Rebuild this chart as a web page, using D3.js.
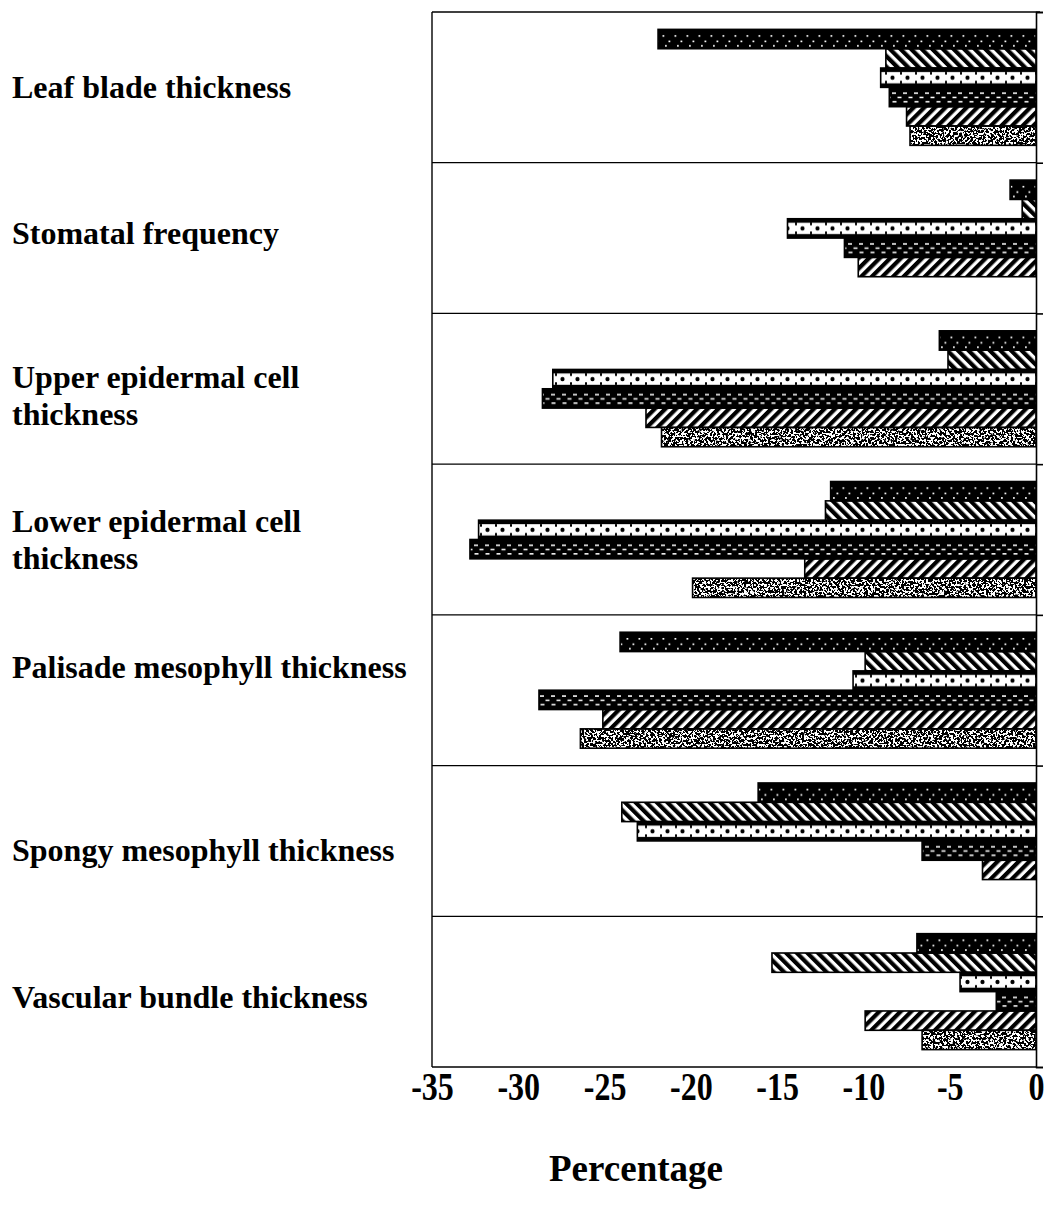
<!DOCTYPE html>
<html>
<head>
<meta charset="utf-8">
<script src="https://cdn.jsdelivr.net/npm/d3@7"></script>
<style>
  html, body { margin: 0; padding: 0; background: #fff; }
  svg { display: block; }
</style>
</head>
<body>
<div id="chart"></div>
<script>
// ---------- data ----------
const categories = [
  "Leaf blade thickness",
  "Stomatal frequency",
  "Upper epidermal cell thickness",
  "Lower epidermal cell thickness",
  "Palisade mesophyll thickness",
  "Spongy mesophyll thickness",
  "Vascular bundle thickness"
];
const categoryLines = [
  ["Leaf blade thickness"],
  ["Stomatal frequency"],
  ["Upper epidermal cell", "thickness"],
  ["Lower epidermal cell", "thickness"],
  ["Palisade mesophyll thickness"],
  ["Spongy mesophyll thickness"],
  ["Vascular bundle thickness"]
];
const seriesNames = ["S1", "S2", "S3", "S4", "S5", "S6"];
const series1 = [-21.9, -1.5, -5.6, -11.9, -24.1, -16.1, -6.9];
const series2 = [-8.7, -0.8, -5.1, -12.2, -9.9, -24.0, -15.3];
const series3 = [-9.0, -14.4, -28.0, -32.3, -10.6, -23.1, -4.4];
const series4 = [-8.5, -11.1, -28.6, -32.8, -28.8, -6.6, -2.3];
const series5 = [-7.5, -10.3, -22.6, -13.4, -25.1, -3.1, -9.9];
const series6 = [-7.3, 0, -21.7, -19.9, -26.4, 0, -6.6];
const seriesValues = [series1, series2, series3, series4, series5, series6];
const xTicks = [-35, -30, -25, -20, -15, -10, -5, 0];
const xTitle = "Percentage";

// ---------- layout ----------
const W = 1048, H = 1217;
const plotLeft = 432, plotRight = 1036, plotTop = 12, plotBottom = 1067;
const serif = "'Liberation Serif', 'Times New Roman', serif";
const labelShift = [0, -5, 7, 0, -23, 9, 5]; // vertical nudges of category labels (px)

const svg = d3.select("#chart").append("svg")
  .attr("width", W).attr("height", H)
  .attr("viewBox", `0 0 ${W} ${H}`);
svg.append("rect").attr("width", W).attr("height", H).attr("fill", "#fff");

const x = d3.scaleLinear().domain([-35, 0]).range([plotLeft, plotRight]);
const y = d3.scaleBand().domain(categories).range([plotTop, plotBottom]).padding(0);
const yInner = d3.scaleBand().domain(seriesNames).range([0, y.bandwidth()])
  .paddingInner(0).paddingOuter(0.9);
const yBound = d3.scaleLinear().domain([0, categories.length]).range([plotTop, plotBottom]);

const defs = svg.append("defs");

// speckle filter for series 6
const f = defs.append("filter").attr("id", "speck")
  .attr("x", 0).attr("y", 0).attr("width", "100%").attr("height", "100%")
  .attr("filterUnits", "objectBoundingBox");
f.append("feTurbulence").attr("type", "fractalNoise").attr("baseFrequency", 0.45)
  .attr("numOctaves", 3).attr("seed", 7).attr("result", "n");
f.append("feColorMatrix").attr("in", "n").attr("type", "matrix")
  .attr("values", "0 0 0 0 0  0 0 0 0 0  0 0 0 0 0  -30 0 0 0 16.2").attr("result", "m");
f.append("feFlood").attr("flood-color", "#fff").attr("result", "w");
f.append("feComposite").attr("in", "m").attr("in2", "w").attr("operator", "over").attr("result", "bw");
f.append("feComposite").attr("in", "bw").attr("in2", "SourceAlpha").attr("operator", "in");

// hatch patterns
function hatch(id, angle) {
  const p = defs.append("pattern").attr("id", id)
    .attr("patternUnits", "userSpaceOnUse").attr("width", 7.5).attr("height", 7.5)
    .attr("patternTransform", `rotate(${angle})`);
  p.append("rect").attr("width", 7.5).attr("height", 7.5).attr("fill", "#fff");
  p.append("rect").attr("width", 4.2).attr("height", 7.5).attr("fill", "#000");
}
hatch("bslash", -45);
hatch("fslash", 45);

function barPattern(type, id, y0, h) {
  const p = defs.append("pattern").attr("id", id)
    .attr("patternUnits", "userSpaceOnUse").attr("y", y0).attr("x", 0)
    .attr("height", h);
  if (type === "darkdots") {
    p.attr("width", 12);
    p.append("rect").attr("width", 12).attr("height", h).attr("fill", "#000");
    [[2.5, 0.34], [8.5, 0.62], [5, 0.85]].forEach(([cx, fy]) => {
      p.append("rect").attr("x", cx).attr("y", h * fy - 0.8)
        .attr("width", 1.8).attr("height", 1.6).attr("fill", "#fff");
    });
  } else if (type === "whitedots") {
    p.attr("width", 15);
    p.append("rect").attr("width", 15).attr("height", h).attr("fill", "#000");
    p.append("rect").attr("x", 0).attr("y", 4).attr("width", 15).attr("height", h - 8).attr("fill", "#fff");
    p.append("circle").attr("cx", 7.5).attr("cy", h / 2).attr("r", 2.1).attr("fill", "#000");
    p.append("rect").attr("x", 0).attr("y", 4).attr("width", 2).attr("height", 2.5).attr("fill", "#000");
    p.append("rect").attr("x", 0).attr("y", h - 6.5).attr("width", 2).attr("height", 2.5).attr("fill", "#000");
  } else if (type === "darkdash") {
    p.attr("width", 11);
    p.append("rect").attr("width", 11).attr("height", h).attr("fill", "#000");
    [[1, 0.3], [6.5, 0.52], [1.5, 0.74]].forEach(([dx, fy]) => {
      p.append("rect").attr("x", dx).attr("y", h * fy - 0.7)
        .attr("width", 4).attr("height", 1.5).attr("fill", "#fff");
    });
  }
}

const fillTypes = ["darkdots", "bslash", "whitedots", "darkdash", "fslash", "speck"];

// ---------- bars ----------
const barData = [];
categories.forEach((c, ci) => {
  seriesNames.forEach((s, si) => {
    const v = seriesValues[si][ci];
    if (v === 0) return;
    barData.push({ c, ci, s, si, v });
  });
});

const barG = svg.append("g");
barData.forEach(d => {
  const by = y(d.c) + yInner(d.s);
  const bh = yInner.bandwidth();
  const bx = x(d.v);
  const bw = x(0) - x(d.v);
  const t = fillTypes[d.si];
  let fill;
  if (t === "bslash" || t === "fslash") fill = `url(#${t})`;
  else if (t === "speck") fill = "#000";
  else {
    const id = `p-${d.si}-${d.ci}`;
    barPattern(t, id, by, bh);
    fill = `url(#${id})`;
  }
  const r = barG.append("rect")
    .attr("x", bx).attr("y", by).attr("width", bw).attr("height", bh)
    .attr("fill", fill);
  if (t === "speck") r.attr("filter", "url(#speck)");
});
// outlines
barG.selectAll("rect.outline").data(barData).join("rect")
  .attr("class", "outline")
  .attr("x", d => x(d.v)).attr("y", d => y(d.c) + yInner(d.s))
  .attr("width", d => x(0) - x(d.v)).attr("height", yInner.bandwidth())
  .attr("fill", "none").attr("stroke", "#000").attr("stroke-width", 1.6);

// ---------- frame ----------
const frame = svg.append("g").attr("stroke", "#000").attr("stroke-width", 1.4).attr("fill", "none");
frame.append("line").attr("x1", plotLeft).attr("x2", plotRight + 4).attr("y1", plotTop).attr("y2", plotTop);
frame.append("line").attr("x1", plotLeft).attr("x2", plotLeft).attr("y1", plotTop).attr("y2", plotBottom);
frame.append("line").attr("x1", plotLeft).attr("x2", plotRight).attr("y1", plotBottom).attr("y2", plotBottom);
d3.range(1, categories.length).forEach(i => {
  frame.append("line").attr("x1", plotLeft).attr("x2", plotRight)
    .attr("y1", yBound(i)).attr("y2", yBound(i)).attr("stroke-width", 1.2);
});

// right (zero) axis with ticks at category boundaries
const yAxis = svg.append("g").attr("transform", `translate(${x(0)},0)`)
  .call(d3.axisRight(yBound).tickValues(d3.range(0, categories.length + 1))
    .tickSize(7).tickSizeOuter(7).tickFormat(""));
yAxis.selectAll("path, line").attr("stroke", "#000").attr("stroke-width", 1.6);

// category labels
const labG = svg.append("g").attr("font-family", serif).attr("font-weight", "bold")
  .attr("font-size", 32).attr("fill", "#000");
categories.forEach((c, ci) => {
  const lines = categoryLines[ci];
  const cy = y(c) + y.bandwidth() / 2 + labelShift[ci];
  const lh = 37;
  const t = labG.append("text").attr("x", 12)
    .attr("y", cy - (lines.length - 1) * lh / 2)
    .attr("dominant-baseline", "central");
  lines.forEach((ln, li) => {
    t.append("tspan").attr("x", 12).attr("dy", li === 0 ? 0 : lh).text(ln);
  });
});

// x axis (labels only)
const xAxis = svg.append("g").attr("transform", `translate(0,${plotBottom})`)
  .call(d3.axisBottom(x).tickValues(xTicks).tickSize(0).tickFormat(d => String(d)));
xAxis.select(".domain").remove();
xAxis.selectAll("text")
  .attr("font-family", serif).attr("font-weight", "bold").attr("font-size", 40)
  .attr("fill", "#000").attr("y", 33).attr("dy", 0)
  .attr("transform", "scale(0.8,1)");

svg.append("text").attr("x", 636).attr("y", 1181)
  .attr("text-anchor", "middle").attr("font-family", serif).attr("font-weight", "bold")
  .attr("font-size", 37).attr("fill", "#000").text(xTitle);
</script>
</body>
</html>
